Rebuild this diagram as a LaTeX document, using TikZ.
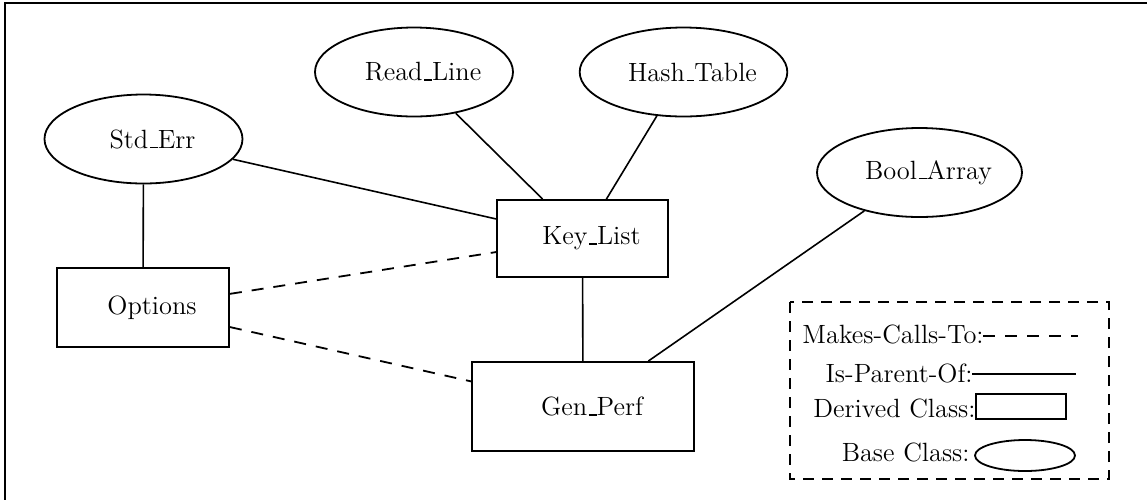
\documentclass[tikz,border=0pt]{standalone}
\usetikzlibrary{shapes.geometric}
% underscore drawn as a short rule on the baseline
\newcommand\usc{\leavevmode\kern.06em\vbox{\hrule width.3em height .7pt}}
\begin{document}
\begin{tikzpicture}[x=0.5pt,y=-0.5pt,
  every node/.style={font=\fontsize{13.2}{15}\selectfont},
  base/.style={draw, ellipse, line width=0.9pt, inner sep=0pt,
    minimum width=99pt, minimum height=44.5pt,
    execute at begin node={\hspace{9pt}}},
  derived/.style={draw, rectangle, line width=0.9pt, inner sep=0pt,
    execute at begin node={\hspace{9pt}}},
  parent/.style={line width=0.8pt},
  calls/.style={line width=0.9pt, dash pattern=on 6pt off 5pt},
  legtext/.style={anchor=base east, inner sep=0pt},
]
\useasboundingbox (0,0) rectangle (1147,500);
% page frame
\draw[line width=1.2pt] (1147,3) -- (5,3) -- (5,500);

% base classes
\node[base] (stderr) at (143.5,139) {Std\usc Err};
\node[base] (readline) at (414,72) {Read\usc Line};
\node[base] (hashtable) at (683.5,72) {Hash\usc Table};
\node[base] (boolarray) at (919.5,172.5) {Bool\usc Array};

% derived classes
\node[derived, minimum width=85.5pt, minimum height=38.5pt] (keylist) at (582.5,238.5) {Key\usc List};
\node[derived, minimum width=86pt, minimum height=39.5pt] (options) at (143,307.5) {Options};
\node[derived, minimum width=111pt, minimum height=44.5pt] (genperf) at (583,406.5) {Gen\usc Perf};

% is-parent-of
\draw[parent] (stderr) -- (keylist);
\draw[parent] (readline) -- (keylist);
\draw[parent] (hashtable) -- (keylist);
\draw[parent] (stderr) -- (options);
\draw[parent] (keylist) -- (genperf);
\draw[parent] (boolarray) -- (genperf);

% makes-calls-to
\draw[calls] (options) -- (keylist);
\draw[calls] (options) -- (genperf);

% legend
\draw[line width=0.8pt, dash pattern=on 5.5pt off 4pt] (790,302) rectangle (1109,479);
\node[legtext] (lcalls) at (984,343) {Makes-Calls-To:};
\coordinate (lcallsA) at (983,336);
\coordinate (lcallsB) at (1078,336);
\draw[calls] (lcallsA) -- (lcallsB);
\node[legtext] (lparent) at (973,382) {Is-Parent-Of:};
\coordinate (lparentA) at (972,374);
\coordinate (lparentB) at (1076,374);
\draw[parent] (lparentA) -- (lparentB);
\node[legtext] (lderived) at (976,417) {Derived Class:};
\node[draw, line width=0.9pt, inner sep=0pt, minimum width=45pt, minimum height=12.5pt] (lrect) at (1021,406.5) {};
\node[legtext] (lbase) at (970,461) {Base Class:};
\node[draw, ellipse, line width=0.9pt, inner sep=0pt, minimum width=50pt, minimum height=15.5pt] (lell) at (1025,455.5) {};
\end{tikzpicture}
\end{document}
